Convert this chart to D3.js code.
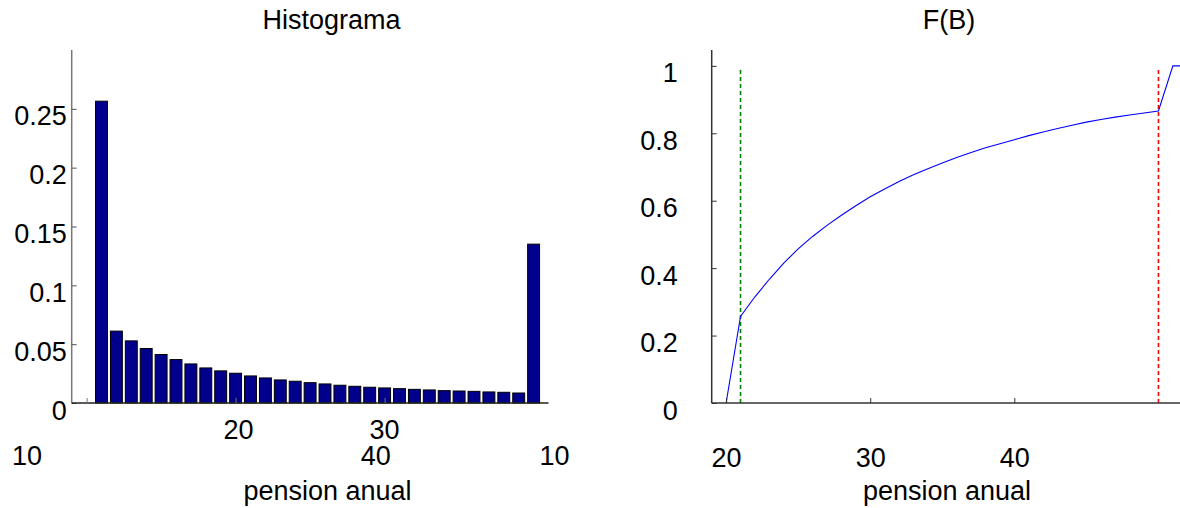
<!DOCTYPE html>
<html>
<head>
<meta charset="utf-8">
<script src="https://cdn.jsdelivr.net/npm/d3@7"></script>
<style>
  html, body { margin: 0; padding: 0; background: #fff; }
  svg { display: block; font-family: "Liberation Sans", Arial, sans-serif; }
  svg text { fill: #000; }
</style>
</head>
<body>
<div id="chart"></div>
<script>
// Histogram: bin centres (pension) and relative frequency
const histBins = d3.range(21, 51);
const histValues = [
  0.2565, 0.0611, 0.0528, 0.0463, 0.0412, 0.0369, 0.0332, 0.0298, 0.0273, 0.0253,
  0.0230, 0.0213, 0.0196, 0.0185, 0.0173, 0.0162, 0.0151, 0.0142, 0.0134, 0.0128,
  0.0122, 0.0116, 0.0111, 0.0105, 0.0102, 0.0099, 0.0094, 0.0091, 0.0085, 0.1350
];
const histYTicks = [0, 0.05, 0.1, 0.15, 0.2, 0.25];
// the odd tick labels of the original figure, given at pension values
const histTickLabels = ['10', '20', '30', '40', '10'];
const histTickAt = [16, 30.2, 40, 39.4, 51.4];
const histTickRow = [2, 1, 1, 2, 2];

// F(B): cumulative distribution
const cdfX = [20, 21, 22, 23, 24, 25, 26, 27, 28, 29, 30, 31, 32, 33, 34, 35, 36, 37, 38, 39,
  40, 41, 42, 43, 44, 45, 46, 47, 48, 49, 50, 51, 52];
const cdfY = [0, 0.257, 0.315, 0.367, 0.415, 0.457, 0.494, 0.527, 0.557, 0.585,
  0.612, 0.635, 0.657, 0.677, 0.695, 0.712, 0.728, 0.743, 0.757, 0.769,
  0.781, 0.793, 0.804, 0.814, 0.824, 0.833, 0.841, 0.848, 0.854, 0.860,
  0.866, 1, 1];
const cdfXTicks = [20, 30, 40];
const cdfYTicks = [0, 0.2, 0.4, 0.6, 0.8, 1];
const lowerLimit = 21;
const upperLimit = 50;

const W = 1180, H = 508;
const plotTop = 50, plotBottom = 403;

const svg = d3.select('#chart').append('svg')
  .attr('width', W).attr('height', H);

// ---------- left: histogram ----------
const x1 = d3.scaleLinear().domain([19, 51]).range([71.7, 548.5]);
const y1 = d3.scaleLinear().domain([0, 0.3]).range([plotBottom, plotTop]);
const bw = (x1(1) - x1(0)) * 0.8;

const g1 = svg.append('g');

g1.selectAll('rect.bar')
  .data(histBins)
  .join('rect')
  .attr('class', 'bar')
  .attr('x', (d) => x1(d) - bw / 2)
  .attr('y', (d, i) => y1(histValues[i]))
  .attr('width', bw)
  .attr('height', (d, i) => y1(0) - y1(histValues[i]))
  .attr('fill', '#00008c')
  .attr('stroke', '#000')
  .attr('stroke-width', 1);

const ax1 = g1.append('g')
  .attr('transform', `translate(${x1.range()[0]},0)`)
  .call(d3.axisLeft(y1).tickValues(histYTicks).tickSize(-5).tickPadding(5)
    .tickFormat((d) => d === 0 ? '0' : String(d)));
ax1.select('.domain').attr('d', `M0,${plotTop}V${plotBottom}`).attr('stroke', '#777').attr('stroke-width', 1.5);
ax1.selectAll('.tick line').attr('stroke', '#555');
ax1.selectAll('text').attr('dy', 16).attr('font-size', 27).attr('font-family', '"Liberation Sans", Arial, sans-serif');

const bx1 = g1.append('g')
  .attr('transform', `translate(0,${plotBottom})`)
  .call(d3.axisBottom(x1).tickValues(cdfXTicks).tickSize(-5).tickFormat(''));
bx1.select('.domain').attr('d', `M${x1.range()[0]},0H${x1.range()[1]}`).attr('stroke', '#222').attr('stroke-width', 1.5);
bx1.selectAll('.tick line').attr('stroke', '#777');

g1.selectAll('text.xlab')
  .data(histTickLabels)
  .join('text')
  .attr('class', 'xlab')
  .attr('x', (d, i) => x1(histTickAt[i]))
  .attr('y', (d, i) => histTickRow[i] === 1 ? 439 : 465)
  .attr('text-anchor', 'middle')
  .attr('font-size', 27)
  .text((d) => d);

g1.append('text').attr('x', 331.5).attr('y', 29).attr('text-anchor', 'middle')
  .attr('font-size', 27).text('Histograma');
g1.append('text').attr('x', 327.5).attr('y', 500).attr('text-anchor', 'middle')
  .attr('font-size', 27).text('pension anual');

// ---------- right: F(B) ----------
const x2 = d3.scaleLinear().domain([19, 52.05]).range([711.7, 1188]);
const y2 = d3.scaleLinear().domain([0, 1.047]).range([plotBottom, plotTop]);

const g2 = svg.append('g');

[[lowerLimit, '#008000'], [upperLimit, '#ff0000']].forEach(([v, c]) => {
  g2.append('line')
    .attr('x1', x2(v)).attr('x2', x2(v))
    .attr('y1', y2(0)).attr('y2', y2(0.995))
    .attr('stroke', c).attr('stroke-width', 1.6)
    .attr('stroke-dasharray', '4,3');
});

const line = d3.line()
  .x((d, i) => x2(cdfX[i]))
  .y((d) => y2(d));

g2.append('path')
  .datum(cdfY)
  .attr('fill', 'none')
  .attr('stroke', '#0000ff')
  .attr('stroke-width', 1.1)
  .attr('d', line);

const ax2 = g2.append('g')
  .attr('transform', `translate(${x2.range()[0]},0)`)
  .call(d3.axisLeft(y2).tickValues(cdfYTicks).tickSize(-5).tickPadding(34)
    .tickFormat((d) => String(d)));
ax2.select('.domain').attr('d', `M0,${plotTop}V${plotBottom}`).attr('stroke', '#333').attr('stroke-width', 1.5);
ax2.selectAll('.tick line').attr('stroke', '#333');
ax2.selectAll('text').attr('dy', 16).attr('font-size', 27).attr('font-family', '"Liberation Sans", Arial, sans-serif');

const bx2 = g2.append('g')
  .attr('transform', `translate(0,${plotBottom})`)
  .call(d3.axisBottom(x2).tickValues(cdfXTicks).tickSize(-5).tickPadding(0));
bx2.select('.domain').attr('d', `M${x2.range()[0]},0H${x2.range()[1]}`).attr('stroke', '#333').attr('stroke-width', 1.5);
bx2.selectAll('.tick line').attr('stroke', '#333');
bx2.selectAll('text').attr('y', 0).attr('dy', 64).attr('font-size', 27).attr('font-family', '"Liberation Sans", Arial, sans-serif');

g2.append('text').attr('x', 949).attr('y', 29).attr('text-anchor', 'middle')
  .attr('font-size', 27).text('F(B)');
g2.append('text').attr('x', 947).attr('y', 500).attr('text-anchor', 'middle')
  .attr('font-size', 27).text('pension anual');
</script>
</body>
</html>
